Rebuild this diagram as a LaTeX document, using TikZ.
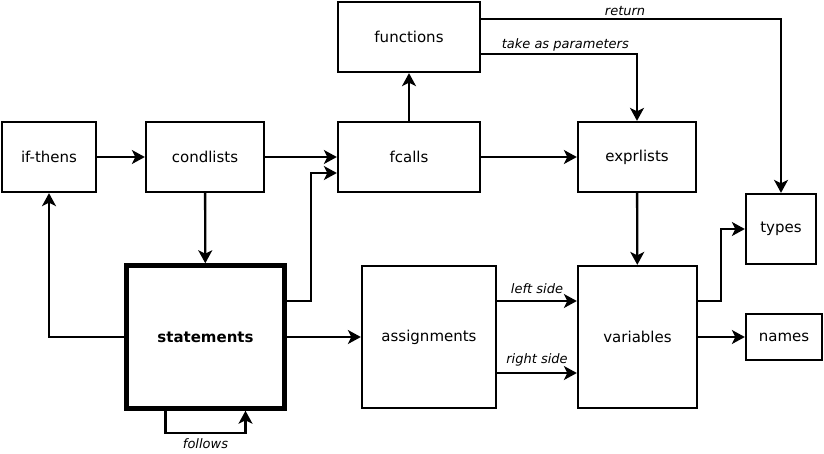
\documentclass[tikz,border=0pt]{standalone}
\usepackage{fontspec}
\setmainfont{DejaVu Sans}
\usetikzlibrary{arrows.meta}
\begin{document}
\begin{tikzpicture}[x=1pt,y=-1pt,
  box/.style={draw, line width=2.3pt, inner sep=0pt, font=\fontsize{15}{18}\selectfont},
  conn/.style={line width=2.3pt, -{Stealth[length=13pt,width=14pt,inset=3.5pt]}},
  lbl/.style={font=\fontsize{13}{15}\selectfont\itshape, inner sep=1.5pt}]
\useasboundingbox (0,0) rectangle (824,453);
\node[box, minimum width=94pt, minimum height=70pt] (ifthens) at (49,157) {if-thens};
\node[box, minimum width=118pt, minimum height=70pt] (condlists) at (205,157) {condlists};
\node[box, minimum width=142pt, minimum height=70pt] (fcalls) at (409,157) {fcalls};
\node[box, minimum width=142pt, minimum height=70pt] (functions) at (409,37) {functions};
\node[box, minimum width=118pt, minimum height=70pt] (exprlists) at (637,157) {exprlists};
\node[box, minimum width=70pt, minimum height=70pt] (types) at (781,229) {types};
\node[box, line width=4.5pt, minimum width=158pt, minimum height=143pt, font=\fontsize{15}{18}\selectfont\bfseries] (statements) at (205.5,337) {statements};
\node[box, minimum width=134pt, minimum height=142pt] (assignments) at (429,337) {assignments};
\node[box, minimum width=119pt, minimum height=142pt] (variables) at (637.5,337) {variables};
\node[box, minimum width=76pt, minimum height=46pt] (names) at (784,337) {names};

\draw[conn] (ifthens) -- (condlists);
\draw[conn] (condlists) -- (statements);
\draw[conn] (condlists) -- (fcalls);
\draw[conn] (statements.west) -| (ifthens.south);
\draw[conn] ([yshift=36pt]statements.east) -- ++(24,0) |- ([yshift=-16pt]fcalls.west);
\draw[conn] (statements) -- (assignments);
\draw[conn] ([xshift=-40pt]statements.south) -- ++(0,22) -| node[pos=0.25,below,lbl,yshift=-3pt]{follows} ([xshift=40pt]statements.south);
\draw[conn] (fcalls) -- (functions);
\draw[conn] (fcalls) -- (exprlists);
\draw[conn] ([yshift=18pt]functions.east) -| node[pos=0.24,above,lbl,yshift=1pt]{return} (types.north);
\draw[conn] ([yshift=-17pt]functions.east) -| node[pos=0.27,above,lbl]{take as parameters} (exprlists.north);
\draw[conn] (exprlists) -- (variables);
\draw[conn] ([yshift=36pt]assignments.east) -- node[above,lbl,yshift=5pt]{left side} ([yshift=36pt]variables.west);
\draw[conn] ([yshift=-36pt]assignments.east) -- node[above,lbl,yshift=4pt]{right side} ([yshift=-36pt]variables.west);
\draw[conn] ([yshift=36pt]variables.east) -- ++(23,0) |- (types.west);
\draw[conn] (variables) -- (names);
\end{tikzpicture}
\end{document}
